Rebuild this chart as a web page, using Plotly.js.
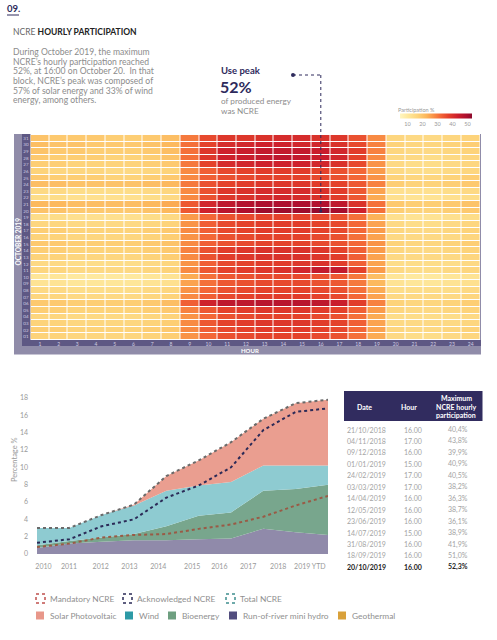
<!DOCTYPE html>
<html><head><meta charset="utf-8">
<script src="https://cdn.plot.ly/plotly-3.0.1.min.js"></script>
<style>html,body{margin:0;padding:0;background:#fff}#chart{width:497px;height:640px}</style>
</head><body><div id="chart"></div>
<script>
// ---------- Heatmap data ----------
const hours = [1,2,3,4,5,6,7,8,9,10,11,12,13,14,15,16,17,18,19,20,21,22,23,24];
const days = [31,30,29,28,27,26,25,24,23,22,21,20,19,18,17,16,15,14,13,12,11,10,9,8,7,6,5,4,3,2,1];
const dayLabels = ['31','30','29','28','27','26','25','24','23','22','21','20','19','18','17','16','15','14','13','12','11','10','09','08','07','06','05','04','03','02','01'];
const participation = [
 [20,19,19,19,18,18,19,21,30,36,39,39,40,41,41,40,39,35,28,16,15,15,16,17],
 [21,20,20,19,19,19,20,22,31,37,41,42,43,43,42,42,40,36,29,17,16,16,17,18],
 [20,19,19,18,18,18,19,21,31,39,43,44,45,45,45,44,42,38,29,16,15,15,16,17],
 [19,18,18,18,17,17,18,20,31,39,43,44,45,46,45,44,42,37,28,15,15,14,15,16],
 [18,18,17,17,17,17,18,19,30,37,41,42,43,43,43,42,40,36,27,15,14,14,15,16],
 [17,16,16,16,15,15,16,17,28,33,36,37,38,38,38,37,35,32,26,15,14,14,15,16],
 [19,18,18,18,17,17,18,19,28,33,35,36,37,37,37,36,35,32,27,17,16,16,17,18],
 [21,21,20,20,20,20,21,22,30,35,37,38,39,39,39,38,37,34,29,18,17,17,18,19],
 [15,15,14,14,14,14,15,16,28,35,39,40,41,41,41,40,38,34,25,13,13,13,14,15],
 [14,14,13,13,13,13,14,15,28,35,39,40,41,42,41,40,38,34,24,13,12,12,13,14],
 [22,22,21,21,21,21,22,24,34,42,46,48,49,49,49,48,46,40,31,19,18,18,19,20],
 [20,20,19,19,19,19,20,22,34,43,47,49,51,51,51,52,50,43,31,18,17,17,18,19],
 [14,14,13,13,13,13,14,15,26,32,35,36,37,37,37,36,35,31,23,13,12,12,13,14],
 [16,16,15,15,15,15,16,17,27,33,36,37,38,38,38,37,36,32,25,15,14,14,15,16],
 [18,18,17,17,17,17,18,19,28,33,36,37,38,38,38,37,36,32,26,16,15,15,16,17],
 [17,17,16,16,16,16,17,18,27,32,35,36,37,37,37,36,35,31,25,15,15,15,15,16],
 [19,19,18,18,18,18,19,20,28,33,35,36,37,37,37,36,35,32,27,17,16,16,17,18],
 [18,18,17,17,17,17,18,19,29,35,38,39,40,40,40,39,37,33,26,16,15,15,16,17],
 [17,17,16,16,16,16,17,18,28,35,38,39,40,40,40,39,38,33,25,15,15,15,15,16],
 [15,15,14,14,14,14,15,16,27,33,36,37,38,38,39,40,38,33,25,14,14,14,14,15],
 [16,16,15,15,15,15,16,17,28,34,37,38,39,40,42,45,45,37,26,15,14,14,15,16],
 [11,11,10,10,10,10,11,12,24,31,34,35,36,36,36,35,34,30,21,11,10,10,11,12],
 [12,12,11,11,11,11,12,13,25,31,34,35,36,36,36,35,34,30,22,12,11,11,12,13],
 [15,15,14,14,14,14,15,16,27,32,35,36,37,37,37,36,35,31,24,14,14,14,14,15],
 [16,16,15,15,15,15,16,17,28,33,36,37,38,38,38,37,36,32,25,15,15,15,15,16],
 [19,19,18,18,18,18,19,21,33,43,46,46,47,47,47,46,44,38,29,17,16,16,17,18],
 [18,18,17,17,17,17,18,19,29,34,37,38,39,39,39,38,37,33,26,16,15,15,16,17],
 [16,16,15,15,15,15,16,17,27,32,35,36,37,37,37,36,35,31,24,14,14,14,14,15],
 [17,17,16,16,16,16,17,18,28,34,37,38,39,39,39,38,37,33,25,15,15,15,15,16],
 [18,18,17,17,17,17,18,19,28,33,36,37,38,38,38,37,36,32,25,16,15,15,16,17],
 [17,17,16,16,16,16,17,18,27,32,35,36,37,37,37,36,35,31,24,15,14,14,15,16]
];
const peakDay = 20, peakHour = 16;

// ---------- Area chart data ----------
const years = ['2010','2011','2012','2013','2014','2015','2016','2017','2018','2019 YTD'];
const hydro      = [0.7,1.2,1.4,1.6,1.6,1.7,1.8,2.9,2.5,2.2];
const bioenergy  = [0.3,0.3,0.5,0.7,1.6,2.7,3.0,4.4,5.0,5.8];
const wind       = [2.0,1.5,2.6,3.3,4.1,3.5,3.5,2.9,2.7,2.2];
const solar      = [0.0,0.0,0.0,0.1,1.7,2.9,4.6,5.4,7.2,7.6];
const geothermal = [0,0,0,0,0,0,0,0,0,0];
const totalNcre    = [3.0,3.0,4.5,5.7,9.0,10.8,12.9,15.6,17.4,17.8];
const acknowledged = [1.3,1.7,3.2,4.0,6.5,7.9,10.0,14.3,16.4,16.8];
const mandatory    = [0.8,1.2,1.9,2.2,2.3,2.9,3.4,4.3,5.6,6.7];

// ---------- Table data ----------
const tableDates = ['21/10/2018','04/11/2018','09/12/2018','01/01/2019','24/02/2019','03/03/2019','14/04/2019','12/05/2019','23/06/2019','14/07/2019','31/08/2019','18/09/2019','20/10/2019'];
const tableHours = ['16.00','17.00','16.00','15.00','17.00','17.00','16.00','16.00','16.00','15.00','16.00','16.00','16.00'];
const tableMax   = ['40,4%','43,8%','39,9%','40,9%','40,5%','38,2%','36,3%','38,7%','36,1%','38,9%','41,9%','51,0%','52,3%'];

// ---------- helpers ----------
const W = 497, H = 640;
const px = x => x / W, py = y => 1 - y / H;
const FONT = 'Lato, "Open Sans", sans-serif';
const GREY = '#8c8c8c', NAVY = '#2e2a5c';
function txt(x, y, text, size, color, o) {
  o = o || {};
  return {xref:'paper', yref:'paper', x:px(x), y:py(y), text:text, showarrow:false,
    xanchor:o.xa||'left', yanchor:'middle', textangle:o.angle||0, borderpad:0,
    font:{family:FONT, size:size, color:color, weight:o.weight||400}};
}
function rect(x0,y0,x1,y1,fill,line){
  return {type:'rect', xref:'paper', yref:'paper', x0:px(x0), x1:px(x1), y0:py(y0), y1:py(y1),
    fillcolor:fill||'rgba(0,0,0,0)', line:line||{width:0}, layer:'below'};
}

const xIdx = years.map((_, i) => i);
const fills = {hydro:'#908aaa', bio:'#78a68d', wind:'#8ecbd1', solar:'#ea9e90', geo:'#e0b45a'};

const traces = [
  {type:'heatmap', x:hours, y:days, z:participation, xaxis:'x', yaxis:'y',
   colorscale:[[0,'#fff6c0'],[0.12,'#fee79a'],[0.25,'#fdd37a'],[0.37,'#fcb55a'],[0.47,'#f98e44'],[0.57,'#f26436'],[0.67,'#e4412b'],[0.8,'#cc1f2c'],[0.92,'#ad0f2e'],[1,'#8c0a2c']],
   zmin:5, zmax:53, xgap:1, ygap:1, showscale:true,
   colorbar:{orientation:'h', x:px(436), xanchor:'center', y:py(119), yanchor:'middle',
     len:92, lenmode:'pixels', thickness:5, outlinewidth:0, ticks:'',
     tickvals:[10,20,30,40,50], tickfont:{family:FONT, size:5.5, color:'#999'}}},
  {type:'scatter', x:xIdx, y:hydro, xaxis:'x2', yaxis:'y2', stackgroup:'s', mode:'none', fillcolor:fills.hydro, name:'Run-of-river mini hydro'},
  {type:'scatter', x:xIdx, y:bioenergy, xaxis:'x2', yaxis:'y2', stackgroup:'s', mode:'none', fillcolor:fills.bio, name:'Bioenergy'},
  {type:'scatter', x:xIdx, y:wind, xaxis:'x2', yaxis:'y2', stackgroup:'s', mode:'none', fillcolor:fills.wind, name:'Wind'},
  {type:'scatter', x:xIdx, y:solar, xaxis:'x2', yaxis:'y2', stackgroup:'s', mode:'none', fillcolor:fills.solar, name:'Solar Photovoltaic'},
  {type:'scatter', x:xIdx, y:geothermal, xaxis:'x2', yaxis:'y2', stackgroup:'s', mode:'none', fillcolor:fills.geo, name:'Geothermal'},
  {type:'scatter', x:xIdx, y:mandatory, xaxis:'x2', yaxis:'y2', mode:'lines', line:{color:'#9a5a45', width:2, dash:'dot'}, name:'Mandatory NCRE'},
  {type:'scatter', x:xIdx, y:acknowledged, xaxis:'x2', yaxis:'y2', mode:'lines', line:{color:'#2b2a57', width:2, dash:'dot'}, name:'Acknowledged NCRE'},
  {type:'scatter', x:xIdx, y:totalNcre, xaxis:'x2', yaxis:'y2', mode:'lines', line:{color:'#6a6a6a', width:2, dash:'dot'}, name:'Total NCRE'}
];

const shapes = [];
const ann = [];

// header texts
ann.push(txt(6, 9, '<b>09.</b>', 9.5, NAVY));
shapes.push({type:'line', xref:'paper', yref:'paper', x0:px(7), x1:px(19), y0:py(15), y1:py(15), line:{color:NAVY, width:1}});
ann.push(txt(12, 32, '<span style="color:#666">NCRE </span><b>HOURLY PARTICIPATION</b>', 8.5, '#222'));
const para = ['During October 2019, the maximum','NCRE’s hourly participation reached','52%, at 16:00 on October 20.  In that','block, NCRE’s peak was composed of','57% of solar energy and 33% of wind','energy, among others.'];
para.forEach((l,i)=>ann.push(txt(12, 52.3 + i*9.6, l, 8.6, GREY)));
ann.push(txt(220, 70, '<b>Use peak</b>', 9.5, NAVY, {weight:900}));
ann.push(txt(219, 86.5, '<b>52%</b>', 16, NAVY, {weight:900}));
ann.push(txt(220, 101.5, 'of produced energy', 8.2, GREY));
ann.push(txt(220, 111, 'was NCRE', 8.2, GREY));

// colorbar title
ann.push(txt(397, 110, 'Participation %', 5.5, '#999'));

// callout dotted line to peak cell
shapes.push({type:'line', xref:'paper', yref:'paper', x0:px(293), x1:px(321), y0:py(75), y1:py(75), line:{color:NAVY, width:1, dash:'dot'}, layer:'above'});
shapes.push({type:'line', xref:'x', yref:'paper', x0:peakHour, x1:peakHour, y0:py(75), y1:py(135), line:{color:NAVY, width:1, dash:'dot'}, layer:'above'});
shapes.push({type:'line', xref:'x', yref:'y', x0:peakHour, x1:peakHour, y0:31.5, y1:peakDay, line:{color:NAVY, width:1, dash:'dot'}, layer:'above'});
shapes.push({type:'circle', xref:'paper', yref:'paper', x0:px(291), x1:px(295), y0:py(73), y1:py(77), fillcolor:NAVY, line:{width:0}, layer:'above'});
shapes.push({type:'circle', xref:'x', yref:'y', xsizemode:'pixel', ysizemode:'pixel', xanchor:peakHour, yanchor:peakDay, x0:-1.5, x1:1.5, y0:-1.5, y1:1.5, fillcolor:NAVY, line:{width:0}, layer:'above'});

// heatmap frame
shapes.push(rect(14, 134, 481, 354.5, '#908ca9'));
shapes.push(rect(22, 134, 30.5, 346, '#5e5884'));
shapes.push(rect(22, 340, 481, 346, '#5e5884'));
shapes.push(rect(30.5, 134, 480, 340, '#ffffff'));
ann.push(txt(17.5, 242, '<b>OCTOBER 2019</b>', 6.5, '#ffffff', {xa:'center', angle:-90}));
ann.push(txt(250, 350.5, '<b>HOUR</b>', 6, '#ffffff', {xa:'center'}));

// area chart axis title
ann.push(txt(14, 460, 'Percentage %', 7.5, '#999', {xa:'center', angle:-90}));

// table
shapes.push(rect(344, 391, 482.5, 421, '#312c5f'));
ann.push(txt(364, 406.5, '<b>Date</b>', 7, '#fff', {xa:'center'}));
ann.push(txt(409, 406.5, '<b>Hour</b>', 7, '#fff', {xa:'center'}));
ann.push(txt(456, 398.3, '<b>Maximum</b>', 7, '#fff', {xa:'center'}));
ann.push(txt(456, 406.7, '<b>NCRE hourly</b>', 7, '#fff', {xa:'center'}));
ann.push(txt(456, 415.1, '<b>participation</b>', 7, '#fff', {xa:'center'}));
tableDates.forEach((d,i)=>{
  const last = i === tableDates.length - 1;
  const c = last ? '#222' : '#a3a3a3';
  const w = s => last ? '<b>'+s+'</b>' : s;
  const y = 429.5 + i*11.45;
  ann.push(txt(366.5, y, w(d), 7, c, {xa:'center'}));
  ann.push(txt(413, y, w(tableHours[i]), 7, c, {xa:'center'}));
  ann.push(txt(458, y, w(tableMax[i]), 7, c, {xa:'center'}));
});

// custom legend
const dotIcon = (x,y,c)=>({type:'rect', xref:'paper', yref:'paper', x0:px(x), x1:px(x+9), y0:py(y-4.5), y1:py(y+4.5), line:{color:c, width:1.5, dash:'dot'}});
const sqIcon = (x,y,c)=>({type:'rect', xref:'paper', yref:'paper', x0:px(x), x1:px(x+8), y0:py(y-4), y1:py(y+4), fillcolor:c, line:{width:0}});
const leg1 = [[36,'Mandatory NCRE','#c0504d'],[123,'Acknowledged NCRE','#2b2a57'],[226,'Total NCRE','#3f8f8f']];
leg1.forEach(([x,t,c])=>{shapes.push(dotIcon(x,598.5,c)); ann.push(txt(x+13, 598.5, t, 8.4, '#8f8f8f'));});
const leg2 = [[36,'Solar Photovoltaic','#e8978a'],[125,'Wind','#2d9aa6'],[168,'Bioenergy','#6e9f80'],[229,'Run-of-river mini hydro','#524d7e'],[338,'Geothermal','#d9a13a']];
leg2.forEach(([x,t,c])=>{shapes.push(sqIcon(x,615.5,c)); ann.push(txt(x+13, 615.5, t, 8.4, '#8f8f8f'));});

const layout = {
  width:W, height:H, margin:{l:0,r:0,t:0,b:0}, paper_bgcolor:'#fff', plot_bgcolor:'#fff',
  showlegend:false, font:{family:FONT},
  xaxis:{domain:[px(30.5), px(480)], range:[0.5,24.5], anchor:'y', tickvals:hours, ticks:'', showgrid:false, zeroline:false, showline:false,
    tickfont:{size:5, color:'#cfcce0', family:FONT}, ticklabelstandoff:0, fixedrange:true},
  yaxis:{domain:[py(340), py(135)], range:[0.5,31.5], anchor:'x', tickvals:days, ticktext:dayLabels, ticks:'', showgrid:false, zeroline:false,
    tickfont:{size:4.5, color:'#cfcce0', family:FONT}, ticklabelstandoff:1, fixedrange:true},
  xaxis2:{domain:[px(37), px(328)], range:[0,9], anchor:'y2', tickvals:[0.2,0.99,1.97,2.86,3.75,4.8,5.64,6.53,7.46,8.44], ticktext:years,
    ticks:'', showgrid:false, zeroline:false, showline:false, tickfont:{size:7, color:'#9a9a9a', family:FONT}, ticklabelstandoff:7},
  yaxis2:{domain:[py(554), py(398)], range:[0,18], anchor:'x2', tickvals:[0,2,4,6,8,10,12,14,16,18], ticks:'', showgrid:false, zeroline:false,
    tickfont:{size:7, color:'#9a9a9a', family:FONT}, ticklabelstandoff:8},
  shapes:shapes, annotations:ann
};
Plotly.newPlot('chart', traces, layout, {staticPlot:true});
</script></body></html>
